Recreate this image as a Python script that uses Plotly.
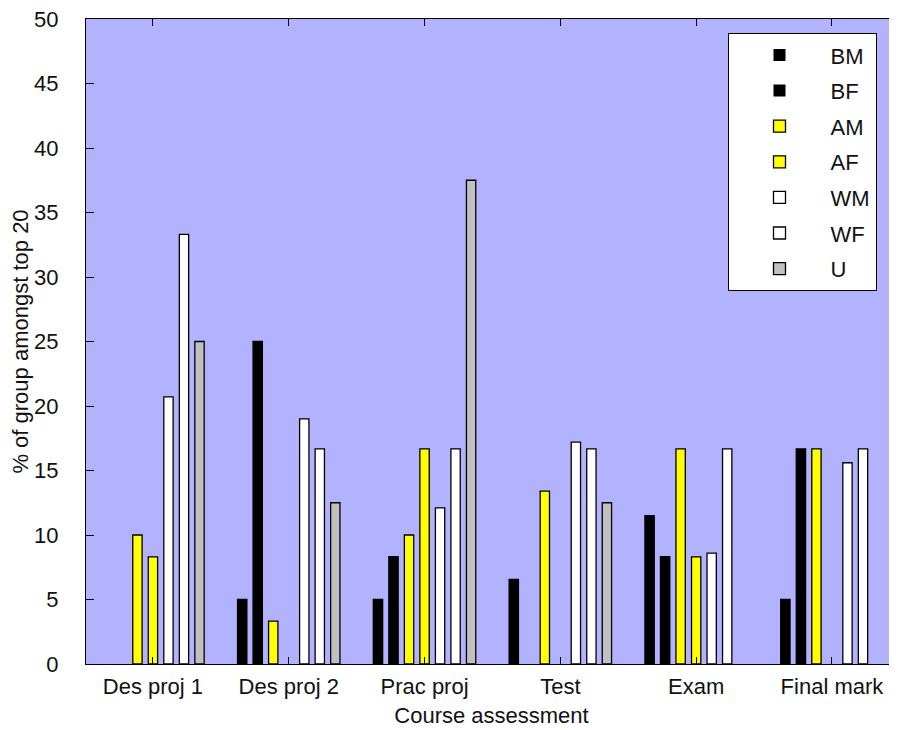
import plotly.graph_objects as go

categories = ["Des proj 1", "Des proj 2", "Prac proj", "Test", "Exam", "Final mark"]
series_names = ["BM", "BF", "AM", "AF", "WM", "WF", "U"]
BM = [0, 5, 5, 6.56, 11.5, 5]
BF = [0, 25, 8.33, 0, 8.33, 16.67]
AM = [10, 3.33, 10, 13.4, 16.67, 16.67]
AF = [8.3, 0, 16.67, 0, 8.3, 0]
WM = [20.7, 19, 12.1, 17.2, 8.6, 15.6]
WF = [33.3, 16.67, 16.67, 16.67, 16.67, 16.67]
U = [25, 12.5, 37.5, 12.5, 0, 0]
series_values = [BM, BF, AM, AF, WM, WF, U]
series_colors = ["black", "black", "#ffff00", "#ffff00", "white", "white", "#c0c0c0"]
y_ticks = [0, 5, 10, 15, 20, 25, 30, 35, 40, 45, 50]

fig = go.Figure()
for name, vals, col in zip(series_names, series_values, series_colors):
    fig.add_trace(go.Bar(
        x=categories, y=vals, name=name, legendgroup=name,
        marker=dict(color=col, line=dict(color="black",
                                         width=[1.3 if v else 0 for v in vals])),
    ))

FAM = "Liberation Sans, Arial, sans-serif"
font = dict(family=FAM, size=22, color="#111111")
fig.update_layout(
    width=889, height=722,
    margin=dict(l=78, r=0, t=11, b=66, autoexpand=False),
    paper_bgcolor="white",
    plot_bgcolor="rgb(178,178,255)",
    barmode="group", bargap=0.2, bargroupgap=0.4,
    font=font,
    showlegend=True,
    legend=dict(
        x=0.791, y=0.978, xanchor="left", yanchor="top",
        bgcolor="white", bordercolor="black", borderwidth=1,
        font=dict(family=FAM, size=22, color="#111111"),
        tracegroupgap=4, traceorder="grouped", itemwidth=92,
    ),
)
fig.update_xaxes(
    range=[-0.493, 5.479], showline=True, linecolor="black", linewidth=1,
    mirror="ticks", ticks="inside", ticklen=7, tickcolor="black",
    showgrid=False, zeroline=False, ticklabelstandoff=3, automargin=False,
    title=dict(text="Course assessment", standoff=9, font=font),
)
fig.update_yaxes(
    range=[0, 50], tickvals=y_ticks, showline=True, linecolor="black", linewidth=1,
    mirror="ticks", ticks="inside", ticklen=8, tickcolor="black",
    showgrid=False, zeroline=False, ticklabelstandoff=22, automargin=False,
    ticklabeloverflow="allow",
    title=dict(text="% of group amongst top 20", standoff=2, font=font),
)
fig.write_html("out.html")
